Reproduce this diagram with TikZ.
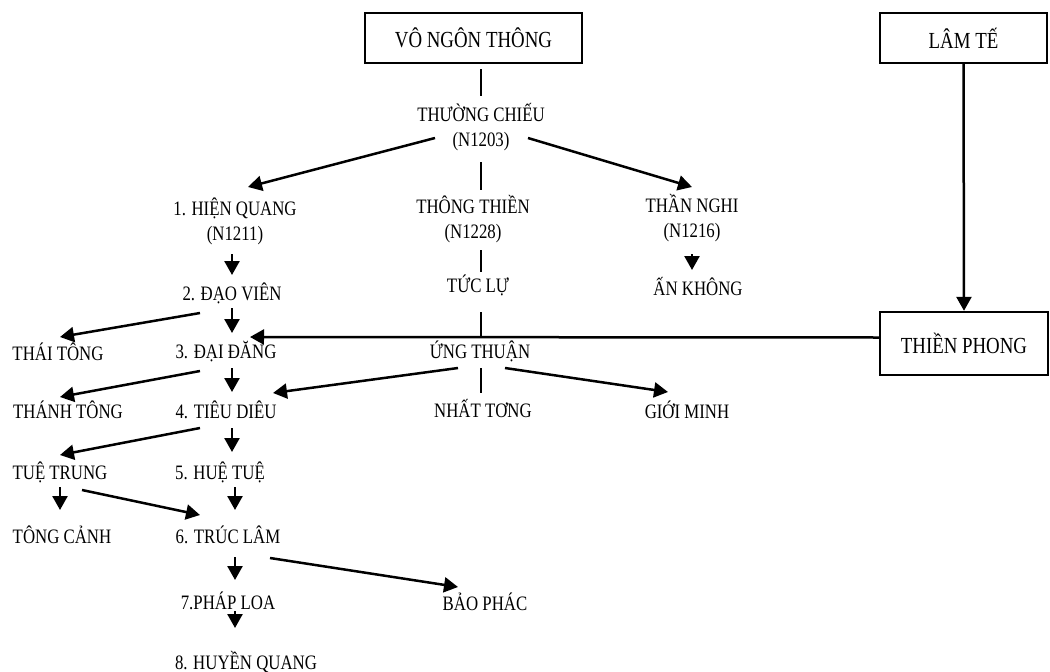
\documentclass[tikz,border=0pt]{standalone}
\usepackage{fontspec}
\setmainfont[FakeStretch=0.82]{Liberation Serif}
\usetikzlibrary{arrows.meta,calc}
\begin{document}
\begin{tikzpicture}[x=1pt,y=-1pt,
  lbl/.style={inner sep=0pt,align=center,font=\fontsize{20.5}{25}\selectfont},
  boxnode/.style={draw,line width=2.4pt,inner sep=0pt,font=\fontsize{23}{27}\selectfont},
  conn/.style={line width=2.5pt},
  arr/.style={line width=2.5pt,-{Triangle[length=14pt,width=15pt]}}]
\useasboundingbox (0,0) rectangle (1050,672);
% boxes
\node[boxnode,minimum width=217pt,minimum height=50pt] (vnt) at (473.5,38) {VÔ NGÔN THÔNG};
\node[boxnode,minimum width=167pt,minimum height=50pt] (lamte) at (963.5,38) {LÂM TẾ};
\node[boxnode,minimum width=168pt,minimum height=63pt] (tp) at (964,343.5) {THIỀN PHONG};
% text nodes
\node[lbl] (tc) at (481,127) {THƯỜNG CHIẾU\\(N1203)};
\node[lbl] (hq) at (235,221) {1. HIỆN QUANG\\(N1211)};
\node[lbl] (tt) at (473,219) {THÔNG THIỀN\\(N1228)};
\node[lbl] (tn) at (692,218) {THẦN NGHI\\(N1216)};
\node[lbl] (dv) at (232,293) {2. ĐẠO VIÊN};
\node[lbl] (tl) at (478,285) {TỨC LỰ};
\node[lbl] (ak) at (698,287) {ẤN KHÔNG};
\node[lbl] (thaitong) at (58,352) {THÁI TÔNG};
\node[lbl] (dd) at (226,352) {3. ĐẠI ĐĂNG};
\node[lbl] (ut) at (480,351) {ỨNG THUẬN};
\node[lbl] (thanhtong) at (68,410) {THÁNH TÔNG};
\node[lbl] (td) at (226,410) {4. TIÊU DIÊU};
\node[lbl] (nt) at (483,409) {NHẤT TƠNG};
\node[lbl] (gm) at (687,410) {GIỚI MINH};
\node[lbl] (tutr) at (60,472) {TUỆ TRUNG};
\node[lbl] (ht) at (220,472) {5. HUỆ TUỆ};
\node[lbl] (tcanh) at (62,535) {TÔNG CẢNH};
\node[lbl] (trl) at (228,535) {6. TRÚC LÂM};
\node[lbl] (pl) at (228,601) {7.PHÁP LOA};
\node[lbl] (bp) at (485,602) {BẢO PHÁC};
\node[lbl] (hq8) at (246,662) {8. HUYỀN QUANG};
% connectors
\draw[conn] ($(tc)+(0,-58)$) -- ($(tc)+(0,-31)$);
\draw[conn] ($(tc)+(0,35)$) -- ($(tt)+(8,-29)$);
\draw[arr] ($(tc)+(-46,11)$) -- ($(hq)+(13,-34)$);
\draw[arr] ($(tc)+(47,11)$) -- ($(tn)+(0,-31)$);
\draw[conn] ($(tt)+(8,31)$) -- ($(tl)+(3,-13)$);
\draw[conn] ($(tl)+(3,27)$) -- ($(ut)+(1,-14)$);
\draw[arr] (lamte.south) -- (tp.north);
\draw[arr] ($(tp.west)+(0,-6)$) -- ($(dd)+(24,-15)$);
\draw[arr] ($(tn)+(0,36)$) -- ($(ak)+(-6,-17)$);
\draw[arr] ($(hq)+(-3,33)$) -- ($(dv)+(0,-18)$);
\draw[arr] ($(dv)+(0,15)$) -- ($(dd)+(6,-19)$);
\draw[arr] ($(dv)+(-32,20)$) -- ($(thaitong)+(2,-15)$);
\draw[arr] ($(dd)+(6,16)$) -- ($(td)+(6,-18)$);
\draw[arr] ($(dd)+(-26,19)$) -- ($(thanhtong)+(-8,-13)$);
\draw[arr] ($(ut)+(-22,17)$) -- ($(td)+(47,-17)$);
\draw[conn] ($(ut)+(1,17)$) -- ($(nt)+(-2,-16)$);
\draw[arr] ($(ut)+(25,17)$) -- ($(gm)+(-19,-18)$);
\draw[arr] ($(td)+(6,18)$) -- ($(ht)+(12,-20)$);
\draw[arr] ($(td)+(-26,18)$) -- ($(tutr)+(0,-17)$);
\draw[arr] ($(tutr)+(0,15)$) -- ($(tcanh)+(-2,-25)$);
\draw[arr] ($(tutr)+(22,18)$) -- ($(trl)+(-28,-20)$);
\draw[arr] ($(ht)+(15,15)$) -- ($(trl)+(7,-25)$);
\draw[arr] ($(trl)+(7,22)$) -- ($(pl)+(7,-21)$);
\draw[arr] ($(trl)+(42,23)$) -- ($(bp)+(-27,-15)$);
\draw[arr] ($(pl)+(7,10)$) -- ($(hq8)+(-11,-34)$);
\end{tikzpicture}
\end{document}
